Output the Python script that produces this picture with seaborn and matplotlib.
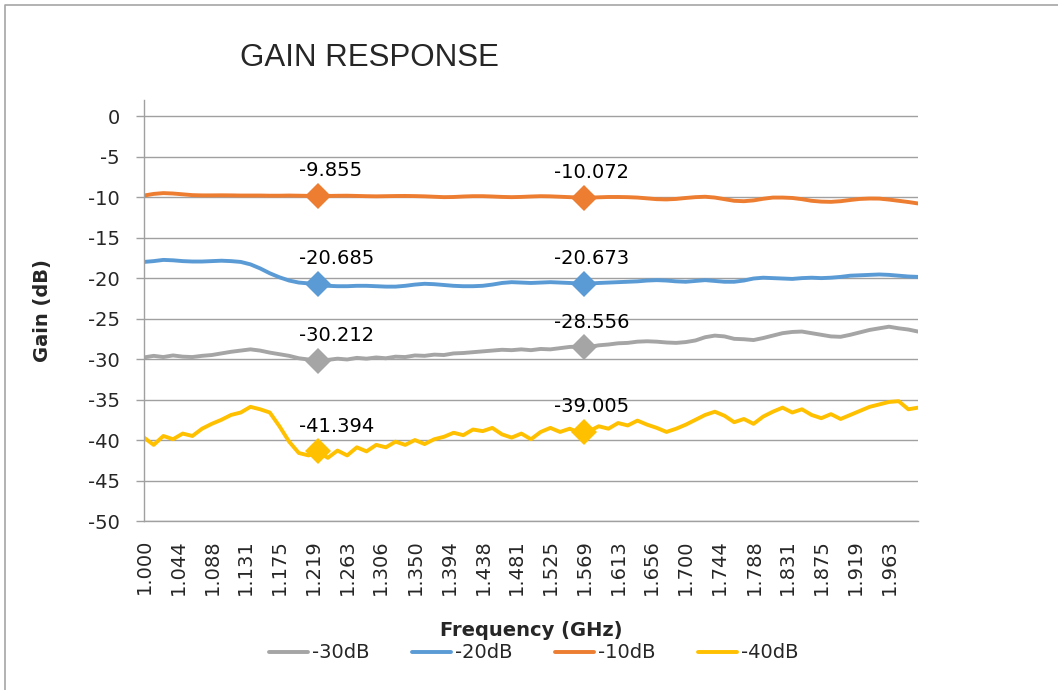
import numpy as np
import pandas as pd
import matplotlib
matplotlib.use("Agg")
import matplotlib.pyplot as plt
from matplotlib.lines import Line2D
import seaborn as sns

# frequency grid (GHz), 81 points 1.000 .. 2.000
freq = np.round(1.0 + 0.0125 * np.arange(81), 4)

gain_30 = [-29.8, -29.6, -29.75, -29.55, -29.7, -29.75, -29.6, -29.5, -29.3, -29.1,
           -28.95, -28.8, -28.95, -29.2, -29.4, -29.6, -29.9, -30.05, -30.2, -30.1,
           -29.95, -30.05, -29.85, -29.95, -29.8, -29.9, -29.7, -29.75, -29.55, -29.6,
           -29.45, -29.5, -29.3, -29.25, -29.15, -29.05, -28.95, -28.85, -28.9, -28.8,
           -28.9, -28.75, -28.8, -28.65, -28.5, -28.45, -28.5, -28.3, -28.2, -28.05,
           -28.0, -27.85, -27.8, -27.85, -27.95, -28.0, -27.9, -27.7, -27.3, -27.1,
           -27.2, -27.5, -27.55, -27.65, -27.4, -27.1, -26.8, -26.65, -26.6, -26.8,
           -27.0, -27.2, -27.25, -27.0, -26.7, -26.4, -26.2, -26.0, -26.2, -26.35, -26.6]

gain_20 = [-18.0, -17.9, -17.75, -17.8, -17.9, -17.95, -17.95, -17.9, -17.85, -17.9,
           -18.0, -18.3, -18.8, -19.4, -19.9, -20.3, -20.55, -20.65, -20.7, -20.95,
           -21.0, -21.0, -20.95, -20.95, -21.0, -21.05, -21.05, -20.95, -20.8, -20.7,
           -20.75, -20.85, -20.95, -21.0, -21.0, -20.95, -20.8, -20.6, -20.5, -20.55,
           -20.6, -20.55, -20.5, -20.55, -20.6, -20.65, -20.67, -20.6, -20.55, -20.5,
           -20.45, -20.4, -20.3, -20.25, -20.3, -20.4, -20.45, -20.35, -20.25, -20.35,
           -20.45, -20.45, -20.3, -20.05, -19.95, -20.0, -20.05, -20.1, -20.0, -19.95,
           -20.0, -19.95, -19.85, -19.7, -19.65, -19.6, -19.55, -19.6, -19.7, -19.8, -19.85]

gain_10 = [-9.8, -9.6, -9.5, -9.55, -9.65, -9.75, -9.78, -9.78, -9.77, -9.78,
           -9.8, -9.8, -9.8, -9.82, -9.82, -9.8, -9.82, -9.84, -9.855, -9.85,
           -9.83, -9.82, -9.85, -9.88, -9.9, -9.88, -9.86, -9.85, -9.87, -9.9,
           -9.95, -10.0, -9.98, -9.92, -9.88, -9.88, -9.92, -9.97, -10.0, -9.97,
           -9.92, -9.88, -9.9, -9.95, -10.0, -10.05, -10.07, -10.02, -9.98, -9.98,
           -10.0, -10.05, -10.15, -10.25, -10.28, -10.22, -10.1, -10.0, -9.95, -10.05,
           -10.25, -10.45, -10.5, -10.4, -10.2, -10.05, -10.05, -10.1, -10.25, -10.45,
           -10.55, -10.58, -10.5, -10.35, -10.22, -10.17, -10.18, -10.3, -10.45, -10.6, -10.78]

gain_40 = [-39.7, -40.6, -39.5, -39.9, -39.2, -39.5, -38.6, -38.0, -37.5, -36.9,
           -36.6, -35.9, -36.2, -36.6, -38.3, -40.2, -41.6, -41.9, -41.5, -42.2,
           -41.3, -41.9, -40.9, -41.4, -40.6, -40.9, -40.2, -40.6, -40.0, -40.5,
           -39.9, -39.6, -39.1, -39.4, -38.7, -38.9, -38.5, -39.3, -39.7, -39.2,
           -39.9, -39.0, -38.5, -39.0, -38.6, -39.1, -38.9, -38.3, -38.6, -37.9,
           -38.2, -37.6, -38.1, -38.5, -39.0, -38.6, -38.1, -37.5, -36.9, -36.5,
           -37.0, -37.8, -37.4, -38.0, -37.1, -36.5, -36.0, -36.6, -36.2, -36.9,
           -37.3, -36.8, -37.4, -36.9, -36.4, -35.9, -35.6, -35.3, -35.2, -36.2, -36.0]

series_names = ["-30dB", "-20dB", "-10dB", "-40dB"]
colors = ["#A5A5A5", "#5B9BD5", "#ED7D31", "#FFC000"]

# marker points (freq, value) per series
mark_freq = [1.225, 1.569]
mark_30 = [-30.212, -28.556]
mark_20 = [-20.685, -20.673]
mark_10 = [-9.855, -10.072]
mark_40 = [-41.394, -39.005]

tick_labels = ["1.000", "1.044", "1.088", "1.131", "1.175", "1.219", "1.263", "1.306",
               "1.350", "1.394", "1.438", "1.481", "1.525", "1.569", "1.613", "1.656",
               "1.700", "1.744", "1.788", "1.831", "1.875", "1.919", "1.963"]
y_ticks = [0, -5, -10, -15, -20, -25, -30, -35, -40, -45, -50]

df = pd.concat([
    pd.DataFrame({"freq": freq, "gain": g, "series": name})
    for g, name in zip([gain_30, gain_20, gain_10, gain_40], series_names)
])

sns.set_theme(style="white")
plt.rcParams['font.family'] = ['DejaVu Sans']

fig = plt.figure(figsize=(10.58, 6.90), dpi=100)
ax = fig.add_axes([144 / 1058, 1 - 521 / 690, (918 - 144) / 1058, (521 - 100) / 690])

sns.lineplot(data=df, x="freq", y="gain", hue="series", hue_order=series_names,
             palette=colors, linewidth=2.8, estimator=None, sort=False, ax=ax)

grid_c = "#A0A0A0"
for marks, c in zip([mark_30, mark_20, mark_10, mark_40], colors):
    ax.plot(mark_freq, marks, linestyle="none", marker="D", markersize=13,
            color=c, markeredgewidth=0, zorder=5)
    for i, (fx, v) in enumerate(zip(mark_freq, marks)):
        dx = -14 if i == 0 else -22
        ax.annotate(f"{v:.3f}", (fx, v), xytext=(dx, 18), textcoords="offset points",
                    ha="left", va="center", fontsize=14, color="black")

ax.set_xlim(1.0, 2.0)
ax.set_ylim(-50, 2)
ax.set_yticks(y_ticks)
ax.set_yticklabels([str(t) for t in y_ticks])
ax.set_xticks([float(t) for t in tick_labels])
ax.set_xticklabels(tick_labels, rotation=90)
ax.grid(axis="y", color=grid_c, linewidth=1.0)
ax.grid(axis="x", visible=False)
ax.set_axisbelow(True)
for s in ["top", "right"]:
    ax.spines[s].set_visible(False)
for s in ["left", "bottom"]:
    ax.spines[s].set_color(grid_c)
    ax.spines[s].set_linewidth(1.0)
ax.tick_params(axis="y", length=5.5, width=1.0, color=grid_c, pad=12, labelsize=14, left=True)
ax.tick_params(axis="x", length=0, pad=13, labelsize=14)

ax.set_xlabel("Frequency (GHz)", fontsize=14, fontweight="bold", labelpad=19)
ax.set_ylabel("Gain (dB)", fontsize=14, fontweight="bold", labelpad=26)

handles, labels = ax.get_legend_handles_labels()
ax.get_legend().remove()
fig.legend(handles, labels, loc="center", bbox_to_anchor=(534 / 1058, 1 - 653 / 690),
           ncol=4, frameon=False, fontsize=14, handlelength=2.0, handletextpad=0.2,
           columnspacing=2.2)

fig.text(240 / 1058, 1 - 66 / 690, "GAIN RESPONSE", fontsize=22.5, family="Liberation Sans",
         ha="left", va="baseline")

# chart-area border (left and top visible)
fig.add_artist(Line2D([5 / 1058, 5 / 1058, 1.0], [0.0, 1 - 5 / 690, 1 - 5 / 690],
                      transform=fig.transFigure, color="#A6A6A6", linewidth=1.2))

fig.savefig("out.png", dpi=100)
